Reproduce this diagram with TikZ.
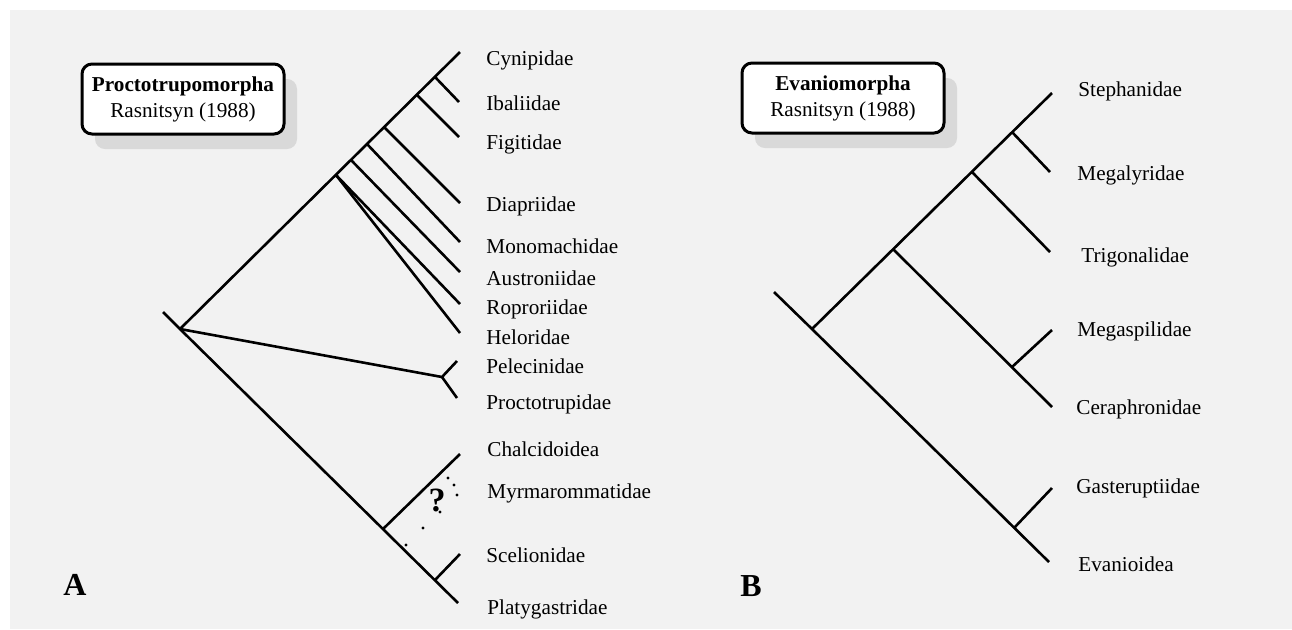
\documentclass[tikz,border=0pt]{standalone}
\usepackage{fontspec}
\setmainfont{Liberation Serif}
\usetikzlibrary{shadows}

\definecolor{panelgray}{HTML}{F2F2F2}

\tikzset{
  branch/.style={line width=1.3pt},
  taxon/.style={anchor=base west, inner sep=0pt, yshift=-3.5pt},
  titlebox/.style={draw, line width=1.5pt, rounded corners=5pt, fill=white,
    align=center, minimum width=101pt, minimum height=35pt, inner sep=2pt,
    drop shadow={shadow xshift=6.5pt, shadow yshift=-7.5pt, fill=black!15, opacity=1}},
  panel/.style={font=\fontsize{16}{18}\selectfont\bfseries, inner sep=0pt}
}

\begin{document}
\begin{tikzpicture}[x=0.5pt, y=-0.5pt, font=\fontsize{10.6}{13}\selectfont]
            \fill[white] (0,0) rectangle (1292,629);
            \fill[panelgray] (10,10) rectangle (1292,629);
            \useasboundingbox (0,0) rectangle (1292,629);

            \node[titlebox] (boxA) at (183, 99) {\textbf{Proctotrupomorpha}\\Rasnitsyn (1988)};
            \node[titlebox] (boxB) at (843, 98) {\textbf{Evaniomorpha}\\Rasnitsyn (1988)};
            \node[panel] (lblA) at ( 75,585) {A};
            \node[panel] (lblB) at (751,586) {B};

            \coordinate (sA)    at (163,312);
            \coordinate (rA)    at (180,329);
            \coordinate (nIba)  at (435, 77);
            \coordinate (nFig)  at (417, 95);
            \coordinate (nDia)  at (384,127);
            \coordinate (nMon)  at (367,144);
            \coordinate (nAus)  at (351,160);
            \coordinate (nRop)  at (336,175);
            \coordinate (nPel)  at (442,377);
            \coordinate (nCha)  at (383,529);
            \coordinate (nSce)  at (435,580);
            \coordinate (tCyn)  at (460, 52);
            \coordinate (tIba)  at (459,102);
            \coordinate (tFig)  at (459,137);
            \coordinate (tDia)  at (460,203);
            \coordinate (tMon)  at (460,242);
            \coordinate (tAus)  at (460,272);
            \coordinate (tRop)  at (460,304);
            \coordinate (tHel)  at (460,333);
            \coordinate (tPel)  at (457,361);
            \coordinate (tPro)  at (457,398);
            \coordinate (tCha)  at (460,454);
            \coordinate (tSce)  at (460,554);
            \coordinate (tPla)  at (458,603);

            \draw[branch] (rA) to (tCyn);
            \draw[branch] (sA) to (rA) to (tPla);
            \draw[branch] (nIba) to (tIba);
            \draw[branch] (nFig) to (tFig);
            \draw[branch] (nDia) to (tDia);
            \draw[branch] (nMon) to (tMon);
            \draw[branch] (nAus) to (tAus);
            \draw[branch] (nRop) to (tRop);
            \draw[branch] (nRop) to (tHel);
            \draw[branch] (rA) to (nPel) to (tPel);
            \draw[branch] (nPel) to (tPro);
            \draw[branch] (nCha) to (tCha);
            \draw[branch] (nSce) to (tSce);

            \node[font=\fontsize{17}{20}\selectfont\bfseries, inner sep=0pt] (qm) at (437,500) {?};
            \foreach \p in {(406,545),(423,528),(440,512),(448,478),(454,485),(457,495)}
              \fill \p circle (0.8pt);

            \node[taxon] (cyn) at (486, 58) {Cynipidae};
            \node[taxon] (iba) at (486,103) {Ibaliidae};
            \node[taxon] (fig) at (486,142) {Figitidae};
            \node[taxon] (dia) at (486,204) {Diapriidae};
            \node[taxon] (mon) at (486,246) {Monomachidae};
            \node[taxon] (aus) at (486,278) {Austroniidae};
            \node[taxon] (rop) at (486,307) {Roproriidae};
            \node[taxon] (hel) at (486,337) {Heloridae};
            \node[taxon] (pel) at (486,366) {Pelecinidae};
            \node[taxon] (pro) at (486,402) {Proctotrupidae};
            \node[taxon] (cha) at (487,449) {Chalcidoidea};
            \node[taxon] (myr) at (487,491) {Myrmarommatidae};
            \node[taxon] (sce) at (486,555) {Scelionidae};
            \node[taxon] (pla) at (487,607) {Platygastridae};

            \coordinate (sB)    at (774,292);
            \coordinate (rB)    at (812,329);
            \coordinate (nMeg)  at (1012,132);
            \coordinate (nTri)  at (972,172);
            \coordinate (nCer)  at (893,249);
            \coordinate (nMsp)  at (1012,367);
            \coordinate (nGas)  at (1014,528);
            \coordinate (tSte)  at (1052, 93);
            \coordinate (tMeg)  at (1050,172);
            \coordinate (tTri)  at (1050,252);
            \coordinate (tMsp)  at (1052,330);
            \coordinate (tCer)  at (1052,407);
            \coordinate (tGas)  at (1052,488);
            \coordinate (tEva)  at (1049,562);

            \draw[branch] (rB) to (tSte);
            \draw[branch] (sB) to (rB) to (tEva);
            \draw[branch] (nMeg) to (tMeg);
            \draw[branch] (nTri) to (tTri);
            \draw[branch] (nCer) to (tCer);
            \draw[branch] (nMsp) to (tMsp);
            \draw[branch] (nGas) to (tGas);

            \node[taxon] (ste) at (1078, 89) {Stephanidae};
            \node[taxon] (meg) at (1077,173) {Megalyridae};
            \node[taxon] (tri) at (1081,255) {Trigonalidae};
            \node[taxon] (msp) at (1077,329) {Megaspilidae};
            \node[taxon] (cer) at (1076,407) {Ceraphronidae};
            \node[taxon] (gas) at (1076,486) {Gasteruptiidae};
            \node[taxon] (eva) at (1078,564) {Evanioidea};
          \end{tikzpicture}
\end{document}
